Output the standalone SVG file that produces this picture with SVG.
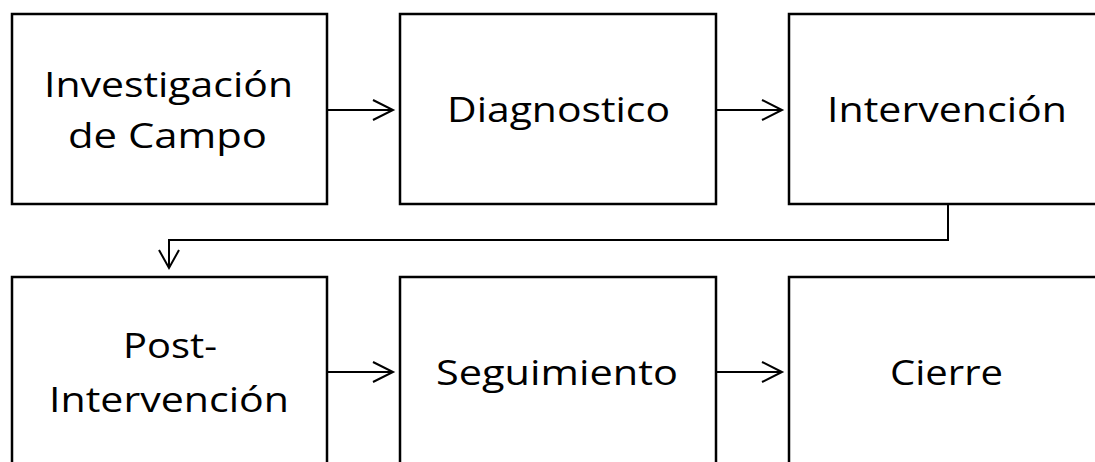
<svg xmlns="http://www.w3.org/2000/svg" width="1095" height="462" viewBox="0 0 1095 462">
<style>
.box{fill:#fff;stroke:#000;stroke-width:2.5}
.lbl{font-family:"Open Sans","Noto Sans","Liberation Sans",sans-serif;font-size:35px;fill:#000}
.con{fill:none;stroke:#000;stroke-width:2}
.head{fill:none;stroke:#000;stroke-width:2;stroke-linejoin:miter}
</style>
<rect width="1095" height="462" fill="#fff"/>
<g id="node-investigacion">
<rect class="box" x="12" y="14" width="315" height="190"/>
<text class="lbl" x="44" y="97" textLength="249" lengthAdjust="spacingAndGlyphs">Investigación</text>
<text class="lbl" x="68" y="148" textLength="199" lengthAdjust="spacingAndGlyphs">de Campo</text>
</g>
<g id="node-diagnostico">
<rect class="box" x="400" y="14" width="316" height="190"/>
<text class="lbl" x="447" y="122" textLength="223" lengthAdjust="spacingAndGlyphs">Diagnostico</text>
</g>
<g id="node-intervencion">
<rect class="box" x="789" y="14" width="320" height="190"/>
<text class="lbl" x="827" y="122" textLength="240" lengthAdjust="spacingAndGlyphs">Intervención</text>
</g>
<g id="node-post">
<rect class="box" x="12" y="277" width="315" height="195"/>
<text class="lbl" x="123" y="358" textLength="94" lengthAdjust="spacingAndGlyphs">Post-</text>
<text class="lbl" x="49" y="412" textLength="240" lengthAdjust="spacingAndGlyphs">Intervención</text>
</g>
<g id="node-seguimiento">
<rect class="box" x="400" y="277" width="316" height="195"/>
<text class="lbl" x="436" y="385" textLength="242" lengthAdjust="spacingAndGlyphs">Seguimiento</text>
</g>
<g id="node-cierre">
<rect class="box" x="789" y="277" width="320" height="195"/>
<text class="lbl" x="890" y="385" textLength="113" lengthAdjust="spacingAndGlyphs">Cierre</text>
</g>
<g id="connectors">
<path class="con" d="M327,110 H392"/>
<path class="head" d="M373,100 L393,110 L373,120"/>
<path class="con" d="M716,110 H781"/>
<path class="head" d="M762,100 L782,110 L762,120"/>
<path class="con" d="M948,205 V240 H169 V267"/>
<path class="head" d="M159,250 L169,268 L179,250"/>
<path class="con" d="M327,372 H392"/>
<path class="head" d="M373,362 L393,372 L373,382"/>
<path class="con" d="M716,372 H781"/>
<path class="head" d="M762,362 L782,372 L762,382"/>
</g>
</svg>
